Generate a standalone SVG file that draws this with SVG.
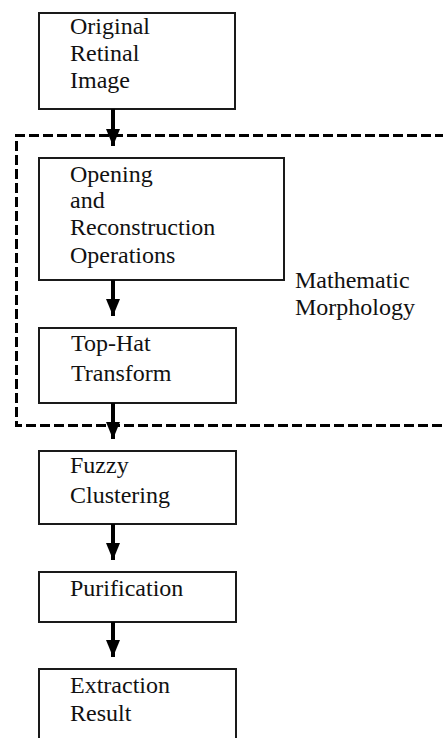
<svg xmlns="http://www.w3.org/2000/svg" width="443" height="738" viewBox="0 0 443 738">
<style>
.box{fill:#fff;stroke:#1a1a1a;stroke-width:2}
.t{font-family:'Liberation Serif','Times New Roman',serif;font-size:24px;fill:#111}
.shaft{stroke:#000;stroke-width:4;fill:none}
.dash{fill:none;stroke:#000;stroke-width:3;stroke-dasharray:10 4}
</style>
<defs>
<marker id="ah" viewBox="0 0 17 14" refX="17" refY="7" markerWidth="17" markerHeight="14" markerUnits="userSpaceOnUse" orient="auto">
<path d="M0,0 L17,7 L0,14 Z" fill="#000"/>
</marker>
</defs>
<rect width="443" height="738" fill="#fff"/>
<g id="group-morphology">
<path class="dash" d="M445,135.5 H16.5 V425.5 H445"/>
<text class="t" x="295" y="288">Mathematic</text>
<text class="t" x="295" y="315">Morphology</text>
</g>
<g id="node-original">
<rect class="box" x="39" y="13" width="196" height="96"/>
<text class="t" x="70" y="34">Original</text>
<text class="t" x="70" y="61">Retinal</text>
<text class="t" x="70" y="88">Image</text>
</g>
<g id="node-opening">
<rect class="box" x="39" y="158" width="245" height="122"/>
<text class="t" x="70" y="182">Opening</text>
<text class="t" x="70" y="208">and</text>
<text class="t" x="70" y="235">Reconstruction</text>
<text class="t" x="70" y="263">Operations</text>
</g>
<g id="node-tophat">
<rect class="box" x="39" y="328" width="197" height="75"/>
<text class="t" x="71" y="351">Top-Hat</text>
<text class="t" x="71" y="381">Transform</text>
</g>
<g id="node-fuzzy">
<rect class="box" x="39" y="451" width="197" height="73"/>
<text class="t" x="70" y="473">Fuzzy</text>
<text class="t" x="70" y="503">Clustering</text>
</g>
<g id="node-purification">
<rect class="box" x="39" y="572" width="197" height="50"/>
<text class="t" x="70" y="596">Purification</text>
</g>
<g id="node-extraction">
<rect class="box" x="39" y="669" width="197" height="100"/>
<text class="t" x="70" y="693">Extraction</text>
<text class="t" x="70" y="721">Result</text>
</g>
<g id="connectors">
<line class="shaft" x1="113" y1="109" x2="113" y2="146" marker-end="url(#ah)"/>
<line class="shaft" x1="113" y1="280" x2="113" y2="316" marker-end="url(#ah)"/>
<line class="shaft" x1="113" y1="403" x2="113" y2="439" marker-end="url(#ah)"/>
<line class="shaft" x1="113" y1="524" x2="113" y2="560" marker-end="url(#ah)"/>
<line class="shaft" x1="113" y1="622" x2="113" y2="657" marker-end="url(#ah)"/>
</g>
</svg>
